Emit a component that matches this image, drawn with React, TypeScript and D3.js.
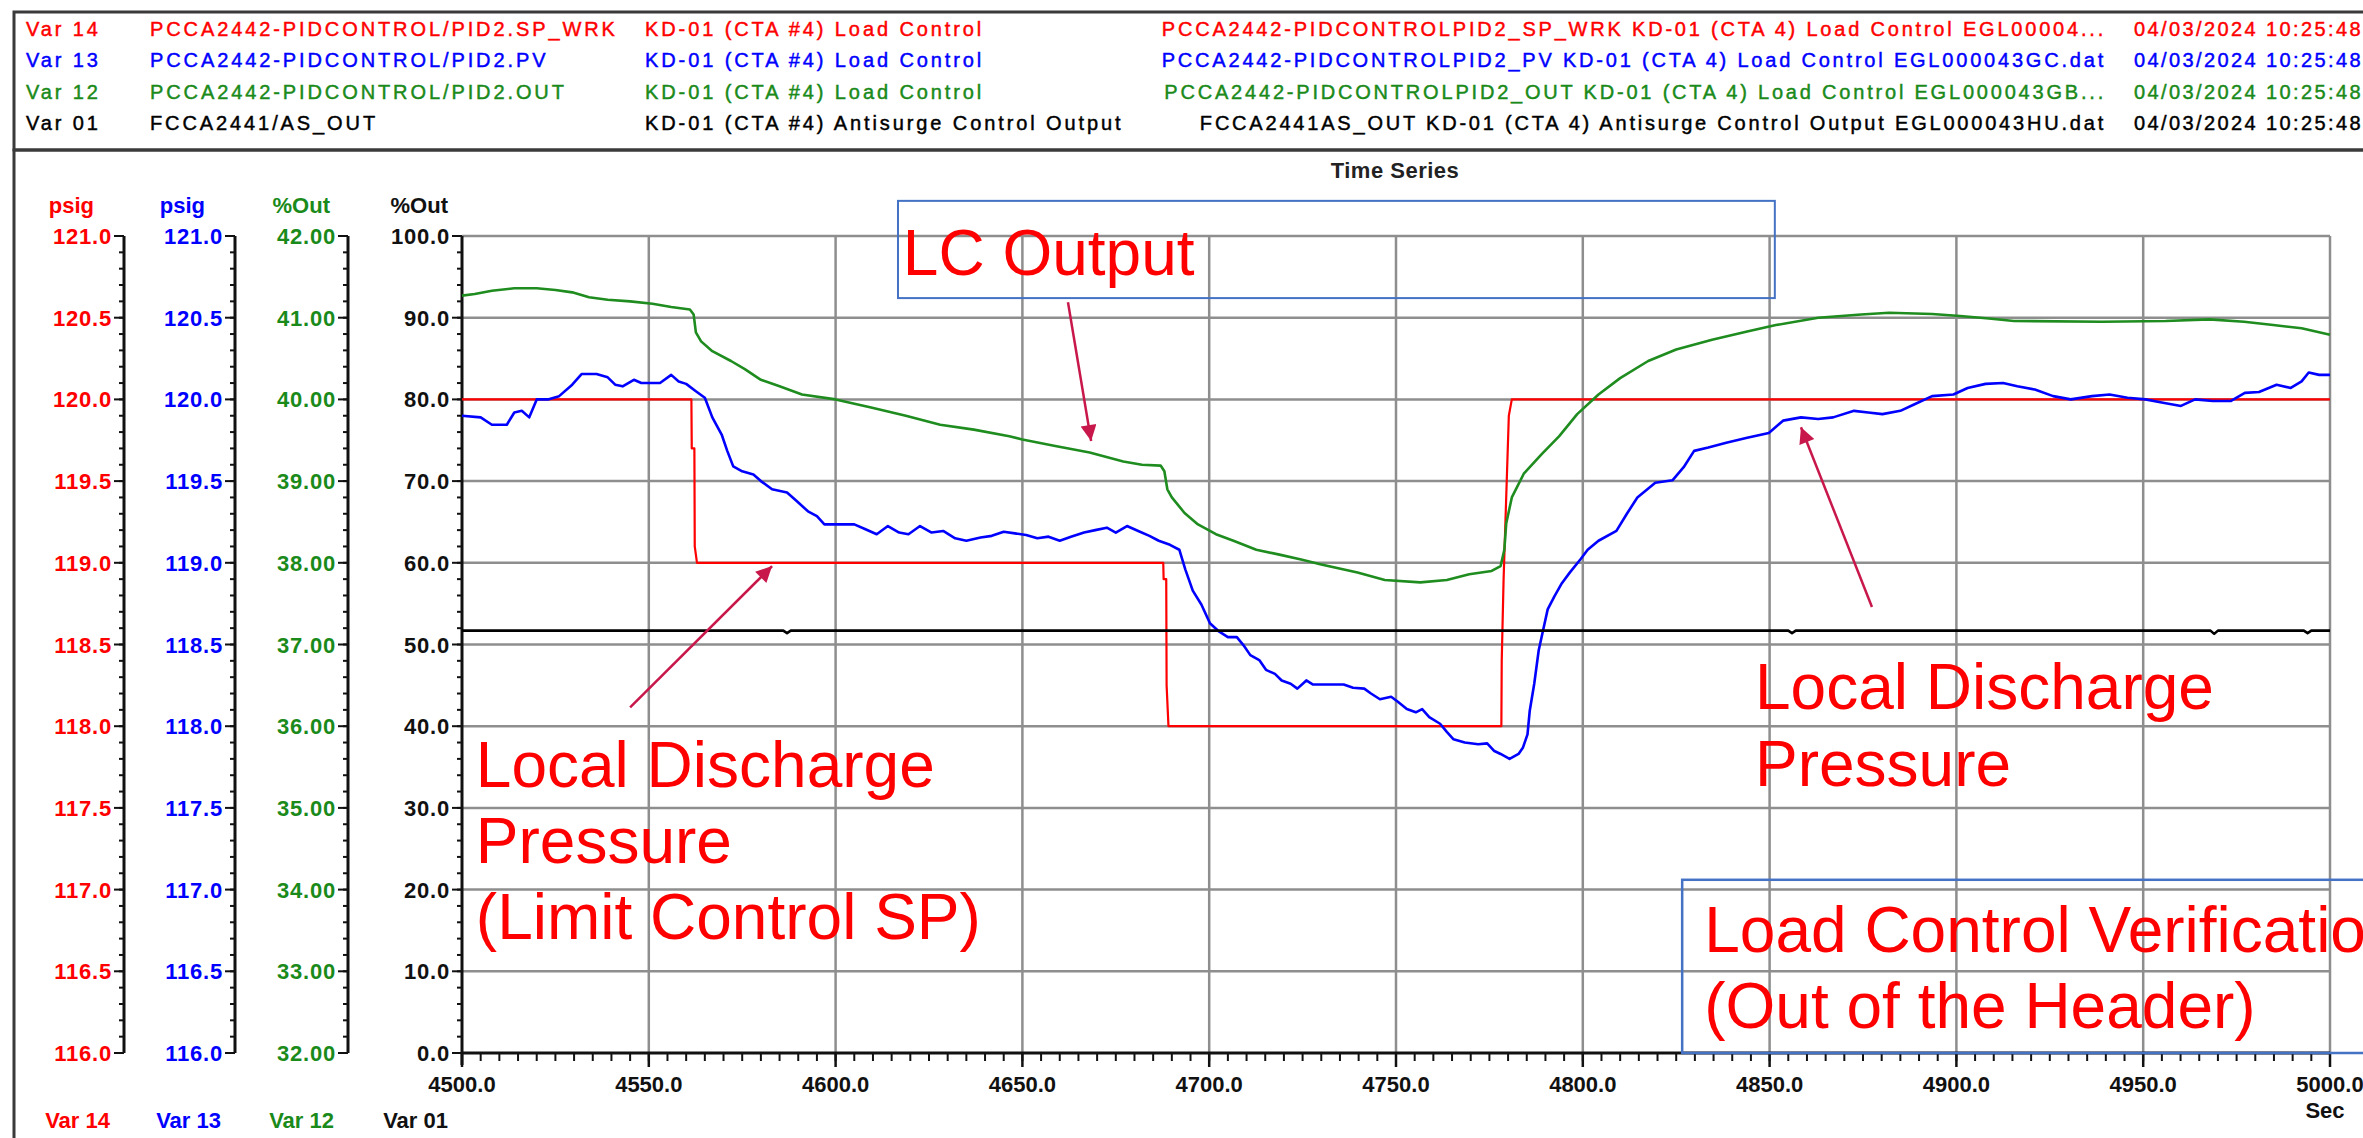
import React, { useRef, useEffect } from 'react';
import * as d3 from 'd3';

// ---- legend header ----
const varIds = ['Var 14', 'Var 13', 'Var 12', 'Var 01'];
const tagNames = [
  'PCCA2442-PIDCONTROL/PID2.SP_WRK',
  'PCCA2442-PIDCONTROL/PID2.PV',
  'PCCA2442-PIDCONTROL/PID2.OUT',
  'FCCA2441/AS_OUT',
];
const descriptions = [
  'KD-01 (CTA #4) Load Control',
  'KD-01 (CTA #4) Load Control',
  'KD-01 (CTA #4) Load Control',
  'KD-01 (CTA #4) Antisurge Control Output',
];
const fileNames = [
  'PCCA2442-PIDCONTROLPID2_SP_WRK KD-01 (CTA 4) Load Control EGL00004...',
  'PCCA2442-PIDCONTROLPID2_PV KD-01 (CTA 4) Load Control EGL000043GC.dat',
  'PCCA2442-PIDCONTROLPID2_OUT KD-01 (CTA 4) Load Control EGL000043GB...',
  'FCCA2441AS_OUT KD-01 (CTA 4) Antisurge Control Output EGL000043HU.dat',
];
const timestamps = ['04/03/2024 10:25:48', '04/03/2024 10:25:48', '04/03/2024 10:25:48', '04/03/2024 10:25:48'];
const units = ['psig', 'psig', '%Out', '%Out'];

// ---- ticks ----
const timeTicks = [4500, 4550, 4600, 4650, 4700, 4750, 4800, 4850, 4900, 4950, 5000];
const psigTicks = [116.0, 116.5, 117.0, 117.5, 118.0, 118.5, 119.0, 119.5, 120.0, 120.5, 121.0];
const outTicks = [32, 33, 34, 35, 36, 37, 38, 39, 40, 41, 42];
const pctTicks = [0, 10, 20, 30, 40, 50, 60, 70, 80, 90, 100];

// ---- series: [sec, value] ----
// Var 14 SP_WRK (psig)
const var14 = [
  [4500, 120.0], [4561.4, 120.0], [4561.5, 119.7], [4562.2, 119.7], [4562.3, 119.1], [4562.9, 119.0],
  [4687.7, 119.0], [4687.8, 118.9], [4688.5, 118.9], [4688.6, 118.25], [4689.1, 118.0],
  [4778.2, 118.0], [4778.3, 118.4], [4778.8, 118.9], [4779.5, 119.4], [4780.2, 119.9], [4781, 120.0],
  [5000, 120.0],
];
// Var 13 PV (psig)
const var13 = [
  [4500, 119.90], [4505, 119.89], [4508, 119.845], [4512, 119.845], [4514, 119.92], [4516, 119.93],
  [4518, 119.89], [4520, 120.0], [4523, 120.0], [4526, 120.02], [4529.5, 120.09], [4532, 120.155],
  [4536, 120.155], [4539, 120.135], [4541, 120.09], [4543, 120.08], [4546, 120.12], [4548, 120.10],
  [4553, 120.10], [4556, 120.15], [4558, 120.11], [4560, 120.095], [4562.6, 120.05], [4565, 120.01],
  [4567, 119.89], [4569.5, 119.785], [4571, 119.685], [4572.6, 119.59], [4575, 119.56], [4578, 119.54],
  [4580, 119.50], [4583, 119.45], [4587, 119.43], [4589.5, 119.38], [4592.6, 119.315], [4595, 119.285],
  [4597, 119.235], [4600, 119.235], [4605, 119.235], [4608, 119.205], [4611, 119.175], [4614, 119.225],
  [4617, 119.185], [4619.5, 119.175], [4622.6, 119.225], [4625.7, 119.185], [4628.8, 119.195], [4632, 119.15],
  [4635, 119.135], [4638.8, 119.155], [4641.8, 119.165], [4645, 119.19], [4648, 119.18], [4651, 119.17],
  [4654, 119.15], [4657, 119.16], [4660, 119.135], [4663, 119.16], [4666.5, 119.185], [4669.5, 119.20],
  [4672.6, 119.215], [4675, 119.185], [4678, 119.225], [4681, 119.195], [4684, 119.165], [4686.5, 119.135],
  [4689.5, 119.11], [4692, 119.08], [4693.6, 118.96], [4695.6, 118.83], [4697.9, 118.745], [4700.2, 118.63],
  [4702.6, 118.58], [4705, 118.545], [4707.4, 118.545], [4709.2, 118.495], [4711, 118.435], [4713.4, 118.405],
  [4715.2, 118.345], [4717.6, 118.32], [4719.4, 118.28], [4721.8, 118.26], [4723.6, 118.23], [4726, 118.28],
  [4727.8, 118.255], [4736, 118.255], [4738.5, 118.235], [4741.5, 118.23], [4743.3, 118.20], [4745.7, 118.165],
  [4748.7, 118.18], [4750.5, 118.15], [4752.9, 118.105], [4755.3, 118.085], [4757, 118.105], [4758.9, 118.055],
  [4761.8, 118.015], [4763.6, 117.965], [4765.4, 117.92], [4768.4, 117.90], [4772, 117.89], [4774.4, 117.895],
  [4776.2, 117.85], [4778, 117.83], [4780.4, 117.80], [4782.8, 117.83], [4784, 117.87], [4785.2, 117.95],
  [4785.8, 118.095], [4787, 118.26], [4788.2, 118.465], [4789.4, 118.59], [4790.6, 118.715], [4792.4, 118.795],
  [4794.4, 118.875], [4796.5, 118.94], [4799.5, 119.025], [4801.3, 119.08], [4804.2, 119.135], [4809, 119.195],
  [4811.8, 119.30], [4814.6, 119.40], [4819.4, 119.49], [4824, 119.505], [4827, 119.585], [4829.8, 119.685],
  [4833.6, 119.705], [4838.4, 119.735], [4844, 119.765], [4849.8, 119.795], [4853.6, 119.87], [4858.4, 119.89],
  [4863, 119.88], [4867, 119.89], [4872.6, 119.93], [4876.4, 119.92], [4880.2, 119.91], [4885, 119.93],
  [4888.8, 119.97], [4893.5, 120.02], [4899.2, 120.03], [4903, 120.07], [4907.8, 120.095], [4912.5, 120.10],
  [4916.3, 120.08], [4921, 120.06], [4925.9, 120.02], [4930.6, 120.0], [4936.3, 120.02], [4941, 120.03],
  [4945.8, 120.01], [4950.6, 120.0], [4955.3, 119.98], [4960.1, 119.96], [4963.9, 120.0], [4968.6, 119.99],
  [4973.4, 119.99], [4977.2, 120.04], [4981, 120.045], [4985.7, 120.09], [4989.5, 120.07], [4992.4, 120.11],
  [4994.3, 120.165], [4997.1, 120.15], [5000, 120.15],
];
// Var 12 OUT (%Out)
const var12 = [
  [4500, 41.27], [4503.4, 41.29], [4508, 41.33], [4514, 41.36], [4520, 41.36], [4525, 41.34],
  [4529.5, 41.31], [4534, 41.25], [4539, 41.22], [4545, 41.20], [4551, 41.17], [4556, 41.13],
  [4561, 41.10], [4562, 41.04], [4562.6, 40.82], [4564, 40.71], [4567, 40.59], [4572, 40.47],
  [4575.7, 40.37], [4580, 40.24], [4585, 40.16], [4591, 40.06], [4600, 40.0], [4609.5, 39.90],
  [4618.8, 39.80], [4628, 39.69], [4637, 39.63], [4646.5, 39.55], [4650, 39.51], [4658.8, 39.43],
  [4668, 39.35], [4677, 39.24], [4682, 39.20], [4687, 39.19], [4688, 39.12], [4688.8, 38.90],
  [4690, 38.80], [4693.4, 38.61], [4697, 38.47], [4701.8, 38.35], [4706.5, 38.27], [4712.6, 38.16],
  [4718.8, 38.10], [4724.6, 38.04], [4730, 37.98], [4739.7, 37.88], [4747, 37.79], [4756.5, 37.76],
  [4763.6, 37.79], [4769.6, 37.86], [4775.6, 37.90], [4778, 37.96], [4779, 38.16], [4779.5, 38.48],
  [4781, 38.80], [4784.2, 39.09], [4789, 39.33], [4793.7, 39.55], [4798.5, 39.82], [4804.2, 40.06],
  [4810, 40.26], [4817.5, 40.47], [4825, 40.61], [4834.6, 40.73], [4844, 40.83], [4851.7, 40.91],
  [4863, 41.00], [4874.5, 41.04], [4882, 41.06], [4893.5, 41.045], [4901, 41.02], [4908.7, 40.99],
  [4915.4, 40.96], [4939, 40.95], [4956, 40.96], [4967.7, 40.98], [4977, 40.95], [4984.8, 40.91],
  [4992.4, 40.87], [5000, 40.79],
];
// Var 01 AS_OUT (%Out)
const var01 = [
  [4500, 51.7], [4586, 51.7], [4587, 51.4], [4588, 51.7], [4855, 51.7], [4856, 51.4], [4857, 51.7],
  [4968, 51.7], [4969, 51.3], [4970, 51.7], [4993, 51.7], [4994, 51.4], [4995, 51.7], [5000, 51.7],
];

// ---- annotations (data coords: sec, % of main axis) ----
const arrowNotes = [
  { from: [4662.2, 91.9], to: [4668.4, 74.9] },
  { from: [4545.0, 42.3], to: [4583.0, 59.6] },
  { from: [4877.4, 54.6], to: [4858.4, 76.6] },
];
const lcLines = ['LC Output'];
const spLines = ['Local Discharge', 'Pressure', '(Limit Control SP)'];
const pvLines = ['Local Discharge', 'Pressure'];
const verifyLines = ['Load Control Verification', '(Out of the Header)'];

const FONT = '"Liberation Sans", Arial, sans-serif';
const COLORS = ['#ff0000', '#0000ff', '#1a8a1a', '#000000'];

const App = () => {
  const svgRef = useRef(null);

  useEffect(() => {
    const width = 2363, height = 1138;
    const svg = d3.select(svgRef.current);
    svg.selectAll('*').remove();
    svg.attr('width', width).attr('height', height);

    // Frames
    svg.append('rect').attr('x', 14).attr('y', 12).attr('width', 2400).attr('height', 138)
      .attr('fill', 'none').attr('stroke', '#3a3a3a').attr('stroke-width', 3);
    svg.append('rect').attr('x', 14).attr('y', 150).attr('width', 2400).attr('height', 1100)
      .attr('fill', 'none').attr('stroke', '#3a3a3a').attr('stroke-width', 3);

    // Header legend
    const rowY = [36, 67, 99, 130];
    const hdr = svg.append('g').attr('font-family', FONT).attr('font-size', 20).attr('letter-spacing', 2.9);
    varIds.forEach((id, i) => {
      const c = COLORS[i];
      const t = (xp, s) => hdr.append('text').attr('x', xp).attr('y', rowY[i]).attr('fill', c)
        .attr('stroke', c).attr('stroke-width', 0.45).text(s);
      t(26, id);
      t(150, tagNames[i]);
      t(645, descriptions[i]);
      t(2106, fileNames[i]).attr('text-anchor', 'end').attr('letter-spacing', 2.8);
      t(2134, timestamps[i]).attr('letter-spacing', 2.4);
    });

    svg.append('text').attr('x', 1395).attr('y', 178).attr('text-anchor', 'middle')
      .attr('font-family', FONT).attr('font-size', 22).attr('font-weight', 700).attr('fill', '#222')
      .attr('letter-spacing', 0.5).text('Time Series');

    // Scales
    const x0 = 462, x1 = 2330, yTop = 236, yBot = 1053;
    const x = d3.scaleLinear().domain([4500, 5000]).range([x0, x1]);
    const yPct = d3.scaleLinear().domain([0, 100]).range([yBot, yTop]);
    const yPsig = d3.scaleLinear().domain([116, 121]).range([yBot, yTop]);
    const yOut = d3.scaleLinear().domain([32, 42]).range([yBot, yTop]);

    // Grid
    const grid = svg.append('g').attr('stroke', '#8e8e8e').attr('stroke-width', 2.5);
    timeTicks.slice(1).forEach(t => {
      grid.append('line').attr('x1', x(t)).attr('x2', x(t)).attr('y1', yTop).attr('y2', yBot);
    });
    pctTicks.slice(1).forEach(v => {
      grid.append('line').attr('x1', x0).attr('x2', x1).attr('y1', yPct(v)).attr('y2', yPct(v));
    });

    // Y axes
    const axisDefs = [
      { ax: 124, scale: yPsig, ticks: psigTicks, fmt: d3.format('.1f'), color: '#ff0000', ux: 30 },
      { ax: 235, scale: yPsig, ticks: psigTicks, fmt: d3.format('.1f'), color: '#0000ff', ux: 30 },
      { ax: 348, scale: yOut, ticks: outTicks, fmt: d3.format('.2f'), color: '#1a8a1a', ux: 18 },
      { ax: 462, scale: yPct, ticks: pctTicks, fmt: d3.format('.1f'), color: '#111', ux: 14 },
    ];
    axisDefs.forEach((a, i) => {
      const g = svg.append('g');
      const bottom = i === 3 ? yBot + 12 : yBot;
      g.append('line').attr('x1', a.ax).attr('x2', a.ax).attr('y1', yTop).attr('y2', bottom)
        .attr('stroke', '#111').attr('stroke-width', 3);
      a.scale.ticks(50).forEach(v => {
        g.append('line').attr('x1', a.ax - 5).attr('x2', a.ax).attr('y1', a.scale(v)).attr('y2', a.scale(v))
          .attr('stroke', '#111').attr('stroke-width', 2);
      });
      a.ticks.forEach(v => {
        g.append('line').attr('x1', a.ax - 10).attr('x2', a.ax).attr('y1', a.scale(v)).attr('y2', a.scale(v))
          .attr('stroke', '#111').attr('stroke-width', 2);
        g.append('text').attr('x', a.ax - 12).attr('y', a.scale(v) + 8).attr('text-anchor', 'end')
          .attr('font-family', FONT).attr('font-size', 22).attr('font-weight', 700).attr('fill', a.color)
          .attr('letter-spacing', 0.8).text(a.fmt(v));
      });
      g.append('text').attr('x', a.ax - a.ux).attr('y', 213).attr('text-anchor', 'end')
        .attr('font-family', FONT).attr('font-size', 22).attr('font-weight', 700).attr('fill', a.color)
        .text(units[i]);
      g.append('text').attr('x', a.ax - 14).attr('y', 1128).attr('text-anchor', 'end')
        .attr('font-family', FONT).attr('font-size', 22).attr('font-weight', 700).attr('fill', a.color)
        .text(varIds[i]);
    });

    // X axis
    const xg = svg.append('g');
    x.ticks(100).forEach(t => {
      xg.append('line').attr('x1', x(t)).attr('x2', x(t)).attr('y1', yBot).attr('y2', yBot + 8)
        .attr('stroke', '#111').attr('stroke-width', 2);
    });
    timeTicks.forEach(t => {
      xg.append('line').attr('x1', x(t)).attr('x2', x(t)).attr('y1', yBot).attr('y2', yBot + 14)
        .attr('stroke', '#111').attr('stroke-width', 2.5);
      xg.append('text').attr('x', x(t)).attr('y', 1092).attr('text-anchor', 'middle')
        .attr('font-family', FONT).attr('font-size', 22).attr('font-weight', 700).attr('fill', '#111')
        .text(d3.format('.1f')(t));
    });
    xg.append('line').attr('x1', x0).attr('x2', x1).attr('y1', yBot).attr('y2', yBot)
      .attr('stroke', '#111').attr('stroke-width', 3);
    xg.append('text').attr('x', 2325).attr('y', 1118).attr('text-anchor', 'middle')
      .attr('font-family', FONT).attr('font-size', 22).attr('font-weight', 700).attr('fill', '#111')
      .text('Sec');

    // Series
    const series = [
      { data: var14, y: yPsig, color: '#ff0000', w: 2.2 },
      { data: var12, y: yOut, color: '#1e8c1e', w: 2.6 },
      { data: var13, y: yPsig, color: '#0000ff', w: 2.6 },
      { data: var01, y: yPct, color: '#000000', w: 2.6 },
    ];
    series.forEach(s => {
      const line = d3.line().x(d => x(d[0])).y(d => s.y(d[1]));
      svg.append('path').datum(s.data).attr('d', line).attr('fill', 'none')
        .attr('stroke', s.color).attr('stroke-width', s.w).attr('stroke-linejoin', 'round');
    });

    // Annotations
    const red = '#ff0000', boxBlue = '#4472c4', arrowCol = '#c8174a';
    const defs = svg.append('defs');
    defs.append('marker').attr('id', 'ah').attr('viewBox', '0 0 10 10').attr('refX', 10).attr('refY', 5)
      .attr('markerUnits', 'userSpaceOnUse').attr('markerWidth', 20).attr('markerHeight', 16)
      .attr('orient', 'auto')
      .append('path').attr('d', 'M0,0 L10,5 L0,10 Z').attr('fill', arrowCol);

    arrowNotes.forEach(a => {
      svg.append('line').attr('x1', x(a.from[0])).attr('y1', yPct(a.from[1]))
        .attr('x2', x(a.to[0])).attr('y2', yPct(a.to[1]))
        .attr('stroke', arrowCol).attr('stroke-width', 2.5).attr('marker-end', 'url(#ah)');
    });

    // LC Output box
    svg.append('rect').attr('x', x(4616.7)).attr('y', yPct(104.3))
      .attr('width', x(4851.4) - x(4616.7)).attr('height', yPct(92.4) - yPct(104.3))
      .attr('fill', 'none').attr('stroke', boxBlue).attr('stroke-width', 2);
    // verification box
    svg.append('rect').attr('x', x(4826.6)).attr('y', yPct(21.2))
      .attr('width', 800).attr('height', yPct(0) - yPct(21.2))
      .attr('fill', 'none').attr('stroke', boxBlue).attr('stroke-width', 2.5);

    const note = (lines, t, firstPct, stepPct) => {
      lines.forEach((txt, i) => {
        svg.append('text').attr('x', x(t)).attr('y', yPct(firstPct - i * stepPct))
          .attr('font-family', FONT).attr('font-size', 64).attr('fill', red).text(txt);
      });
    };
    note(lcLines, 4618.0, 95.2, 0);
    note(spLines, 4503.7, 32.6, 9.3);
    note(pvLines, 4846.1, 42.1, 9.4);
    note(verifyLines, 4832.5, 12.4, 9.3);
  }, []);

  return (
    <svg ref={svgRef} style={{ position: 'absolute', left: 0, top: 0, display: 'block', background: '#fff' }} />
  );
};

export default App;
